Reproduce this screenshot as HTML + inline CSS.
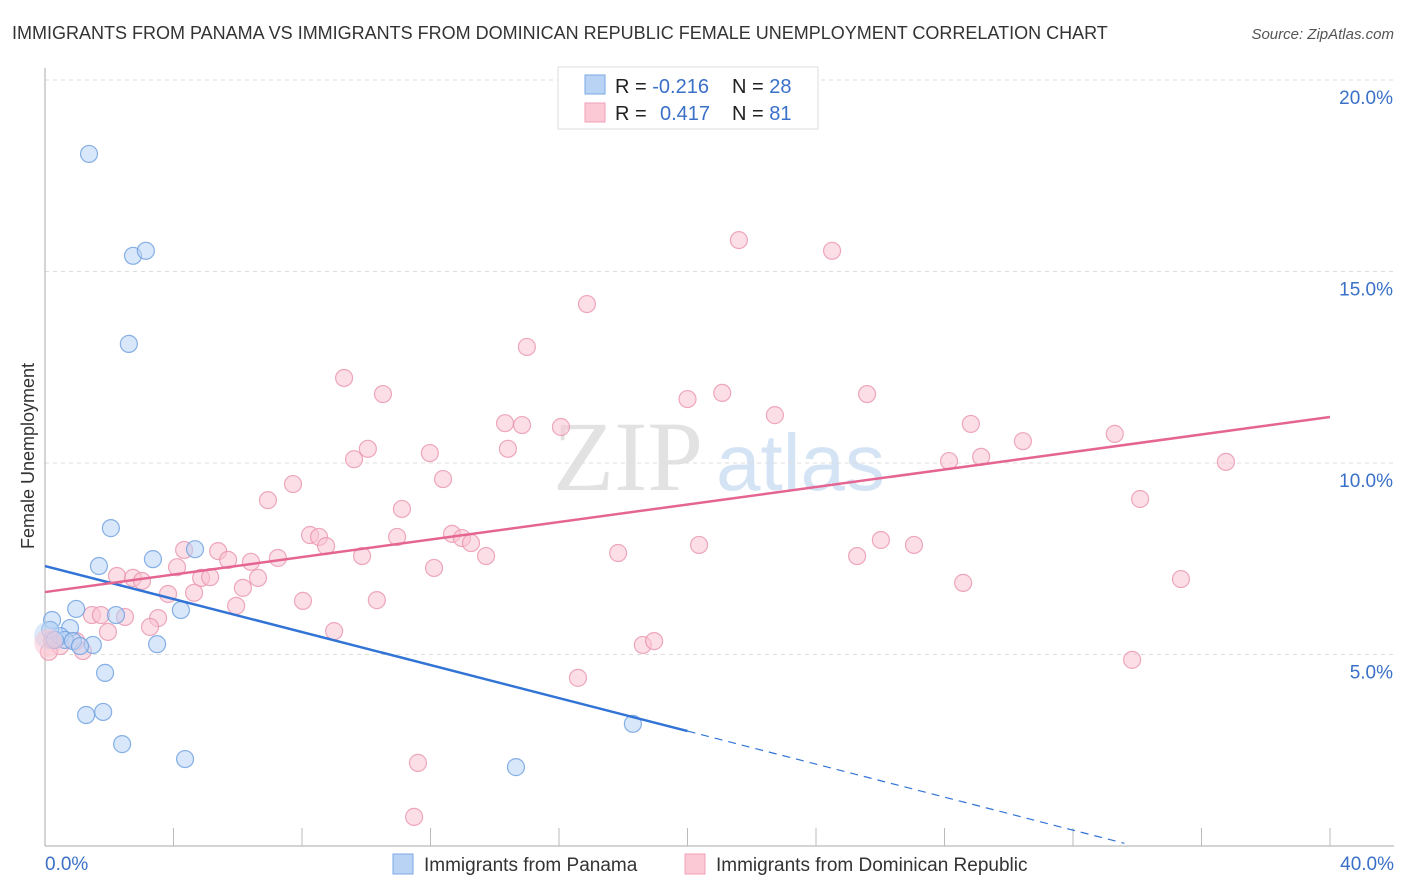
<!DOCTYPE html>
<html><head><meta charset="utf-8"><style>
body{margin:0;background:#fff;font-family:"Liberation Sans",sans-serif;}
svg{display:block}
</style></head><body>
<svg id="chart" width="1406" height="892" xmlns="http://www.w3.org/2000/svg">
<text x="12" y="39" font-size="18" fill="#333">IMMIGRANTS FROM PANAMA VS IMMIGRANTS FROM DOMINICAN REPUBLIC FEMALE UNEMPLOYMENT CORRELATION CHART</text>
<text x="1394" y="39" font-size="15" fill="#555" font-style="italic" text-anchor="end">Source: ZipAtlas.com</text>
<text x="553" y="490" font-size="100" fill="#e2e2e2" font-family="Liberation Serif,serif">ZIP</text>
<text x="716" y="490" font-size="80" fill="#d5e4f5">atlas</text>
<g id="grid"></g><g id="marks"></g>
<text transform="translate(34,456) rotate(-90)" font-size="18" fill="#333" text-anchor="middle">Female Unemployment</text>
<g>
<rect x="558" y="67" width="260" height="62" fill="#fff" stroke="#ddd"/>
<rect x="585" y="75" width="20" height="19" fill="#b8d3f4" stroke="#7aa8e6"/>
<rect x="585" y="103" width="20" height="19" fill="#fbc8d6" stroke="#f0a0b8"/>
<text x="615" y="93" font-size="20" fill="#222">R = <tspan fill="#3a70c8">-0.216</tspan><tspan x="732">N = </tspan><tspan fill="#3a70c8">28</tspan></text>
<text x="615" y="120" font-size="20" fill="#222">R = <tspan x="660" fill="#3a70c8">0.417</tspan><tspan x="732">N = </tspan><tspan fill="#3a70c8">81</tspan></text>
</g>
<g>
<rect x="393" y="854" width="20" height="20" fill="#b8d3f4" stroke="#7aa8e6"/>
<text x="424" y="871" font-size="19" fill="#333">Immigrants from Panama</text>
<rect x="685" y="854" width="20" height="20" fill="#fbc8d6" stroke="#f0a0b8"/>
<text x="716" y="871" font-size="19" fill="#333">Immigrants from Dominican Republic</text>
</g>
</svg>
<script>
const yTicks=[5,10,15,20];
const yTickLabels=["5.0%","10.0%","15.0%","20.0%"];
const xEndLabels=["0.0%","40.0%"];
const panamaX=[1.37,2.74,3.14,2.61,2.05,3.36,4.67,1.68,0.97,2.21,4.23,0.22,0.78,0.47,0.62,0.87,1.49,1.09,3.49,0.16,1.87,1.28,1.81,2.40,4.36,14.66,18.30,0.31];
const panamaY=[18.07,15.41,15.54,13.11,8.30,7.49,7.75,7.31,6.19,6.03,6.16,5.90,5.69,5.48,5.38,5.35,5.25,5.22,5.27,5.64,4.52,3.42,3.50,2.66,2.27,2.06,3.19,5.38];
const domX=[21.6,24.5,16.87,15.0,9.31,10.52,21.08,25.59,20.0,22.72,14.32,14.85,16.06,28.82,33.3,30.44,10.05,14.41,11.98,9.62,28.14,29.14,36.76,12.39,7.72,6.94,34.09,11.11,8.25,8.53,10.96,12.67,12.98,8.75,13.26,26.02,20.36,27.05,4.33,5.39,13.73,17.84,25.28,9.87,5.70,6.41,7.25,4.11,12.11,2.24,2.74,3.02,4.86,5.14,6.63,6.16,28.58,35.36,3.83,4.64,8.03,10.33,5.95,1.46,2.49,3.52,1.74,3.27,1.96,9.00,0.97,0.47,1.18,0.12,18.61,18.96,33.84,16.59,11.61,11.49,0.22];
const domY=[15.82,15.54,14.15,13.03,12.22,11.80,11.83,11.80,11.67,11.25,11.04,10.99,10.94,11.02,10.76,10.57,10.37,10.37,10.26,10.10,10.05,10.16,10.03,9.58,9.45,9.03,9.06,8.80,8.12,8.07,8.07,8.15,8.04,7.83,7.91,7.99,7.86,7.86,7.73,7.70,7.57,7.65,7.57,7.57,7.47,7.42,7.52,7.28,7.26,7.05,7.00,6.92,7.00,7.02,7.00,6.74,6.87,6.97,6.58,6.61,6.40,6.42,6.27,6.03,5.98,5.95,6.03,5.72,5.59,5.61,5.35,5.22,5.09,5.07,5.25,5.35,4.86,4.39,2.17,0.76,5.38];
const panamaTrend=[7.31,-0.2155];
const domTrend=[6.63,0.1143];
const NS="http://www.w3.org/2000/svg";
const sx=v=>45+v/40*1285, sy=v=>846-v/5*191.5;
function mk(t,a,p){const e=document.createElementNS(NS,t);for(const k in a)e.setAttribute(k,a[k]);p.appendChild(e);return e;}
const grid=document.getElementById('grid'), marks=document.getElementById('marks');
yTicks.forEach((t,i)=>{
 const l=mk('line',{x1:45,x2:1394,y1:sy(t),y2:sy(t),stroke:'#ddd','stroke-dasharray':'4,4'},grid);
 
 
 const tx=mk('text',{x:1393,y:sy(t)+24,'font-size':19,fill:'#3a70c8','text-anchor':'end'},grid);
 tx.textContent=yTickLabels[i];
 
 
});
const ax=mk('line',{x1:45,x2:45,y1:68,y2:846,stroke:'#aaa'},grid);


const bx=mk('line',{x1:45,x2:1394,y1:846,y2:846,stroke:'#aaa'},grid);


for(let i=1;i<=10;i++){const v=i*4;const t=mk('line',{x1:sx(v),x2:sx(v),y1:828,y2:846,stroke:'#bbb'},grid);
 
 }
[[0,'start',45],[40,'end',1394]].forEach((d,i)=>{const t=mk('text',{x:d[2],y:870,'font-size':19,fill:'#3a70c8','text-anchor':d[1]},grid);t.textContent=xEndLabels[i];
 
 });
function dots(X,Y,fill,stroke,name){X.forEach((x,i)=>{const c=mk('circle',{cx:sx(x),cy:sy(Y[i]),r:8.5,fill:fill,'fill-opacity':0.55,stroke:stroke,'stroke-opacity':0.8,'stroke-width':1.2},marks);
 
 });}
dots(domX,domY,'#f9c3d2','#e993ad','dominican-point');
dots(panamaX,panamaY,'#b8d3f4','#6c9ee0','panama-point');
[['#b8d3f4',5.5],['#f9c3d2',5.3]].forEach(b=>{const c=mk('circle',{cx:sx(0.1),cy:sy(b[1]),r:14,fill:b[0],'fill-opacity':0.5},marks);
 
 });
const f=(t,x)=>t[0]+t[1]*x;
let l1=mk('line',{x1:sx(0),y1:sy(f(panamaTrend,0)),x2:sx(20),y2:sy(f(panamaTrend,20)),stroke:'#3274d6','stroke-width':2.5},marks);


let xe=33.6;
let l2=mk('line',{x1:sx(20),y1:sy(f(panamaTrend,20)),x2:sx(xe),y2:sy(f(panamaTrend,xe)),stroke:'#3274d6','stroke-width':1.2,'stroke-dasharray':'8,6'},marks);


let l3=mk('line',{x1:sx(0),y1:sy(f(domTrend,0)),x2:sx(40),y2:sy(f(domTrend,40)),stroke:'#e56592','stroke-width':2.5},marks);


</script>
</body></html>
